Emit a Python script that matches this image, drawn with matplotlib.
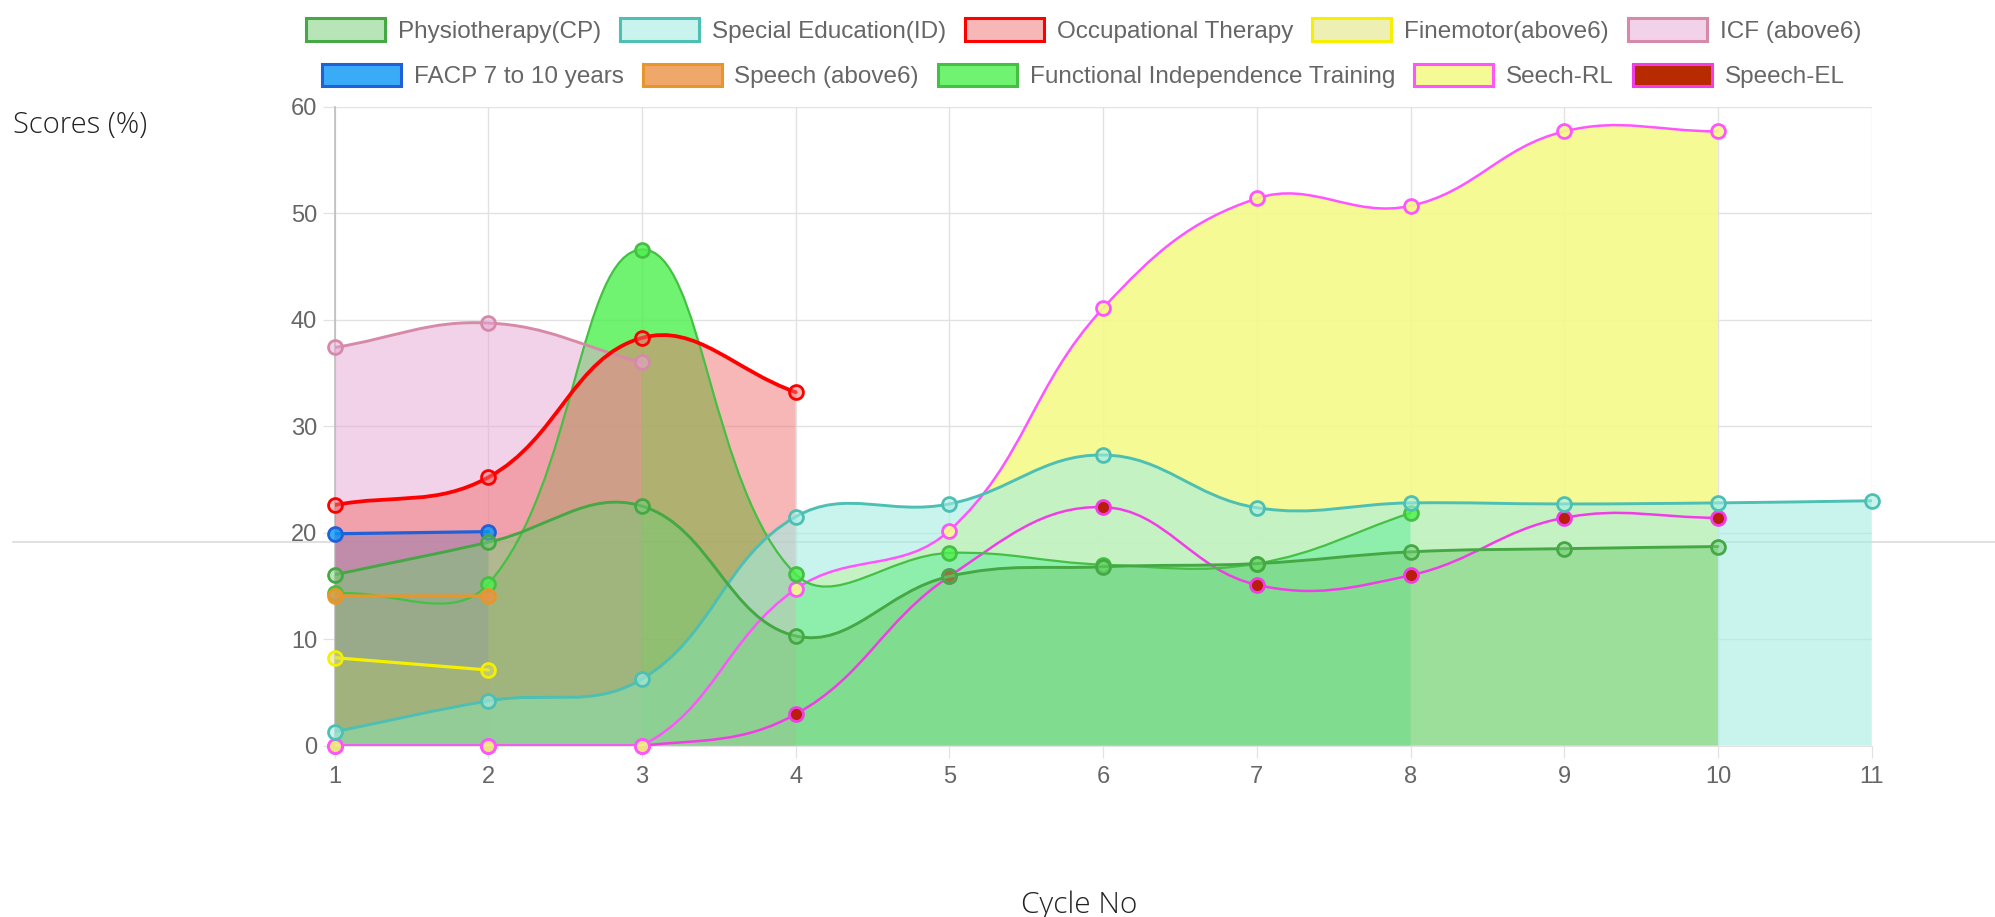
import numpy as np
import matplotlib
matplotlib.use("Agg")
import matplotlib.pyplot as plt
from matplotlib.path import Path
from matplotlib.patches import PathPatch, Rectangle
from matplotlib.lines import Line2D

plt.rcParams['font.family'] = ['Liberation Sans', 'DejaVu Sans']

# cycles (x) for each dataset, and scores
physio_x = [1, 2, 3, 4, 5, 6, 7, 8, 9, 10]
physio = [16.05, 19.1, 22.5, 10.3, 15.9, 16.8, 17.1, 18.2, 18.5, 18.7]
special_x = [1, 2, 3, 4, 5, 6, 7, 8, 9, 10, 11]
special = [1.3, 4.2, 6.25, 21.5, 22.7, 27.3, 22.35, 22.8, 22.7, 22.8, 23.0]
ot_x = [1, 2, 3, 4]
ot = [22.6, 25.2, 38.3, 33.2]
fine_x = [1, 2]
fine = [8.26, 7.1]
icf_x = [1, 2, 3]
icf = [37.4, 39.7, 36.0]
facp_x = [1, 2]
facp = [19.9, 20.1]
speech6_x = [1, 2]
speech6 = [14.05, 14.05]
fit_x = [1, 2, 3, 4, 5, 6, 7, 8]
fit = [14.3, 15.2, 46.6, 16.1, 18.1, 17.0, 17.1, 21.85]
rl_x = [1, 2, 3, 4, 5, 6, 7, 8, 9, 10]
rl = [0, 0, 0, 14.7, 20.2, 41.1, 51.4, 50.7, 57.7, 57.7]
el_x = [1, 2, 3, 4, 5, 6, 7, 8, 9, 10]
el = [0, 0, 0, 2.95, 15.9, 22.4, 15.1, 16.0, 21.4, 21.4]

labels = ['Physiotherapy(CP)', 'Special Education(ID)', 'Occupational Therapy',
          'Finemotor(above6)', 'ICF (above6)', 'FACP 7 to 10 years',
          'Speech (above6)', 'Functional Independence Training', 'Seech-RL', 'Speech-EL']


def rgba(r, g, b, a):
    return (r / 255, g / 255, b / 255, a)


# (x, y, fill colour, line colour, line width, filled)
datasets = [
    (physio_x, physio, rgba(115, 205, 115, 0.5), '#45a845', 2.1, True),
    (special_x, special, rgba(165, 238, 228, 0.6), '#4dbfb3', 2.1, True),
    (ot_x, ot, rgba(241, 113, 113, 0.5), '#ff0000', 2.7, True),
    (fine_x, fine, rgba(221, 225, 105, 0.5), '#f5f000', 2.3, True),
    (icf_x, icf, rgba(231, 167, 213, 0.5), '#d68aa8', 2.1, True),
    (facp_x, facp, rgba(8, 150, 245, 0.8), '#2060d8', 2.3, True),
    (speech6_x, speech6, rgba(236, 147, 69, 0.8), '#e8962a', 2.3, True),
    (fit_x, fit, rgba(76, 240, 76, 0.8), '#45c045', 1.6, True),
    (rl_x, rl, rgba(244, 250, 137, 0.9), '#ff55ff', 1.8, True),
    (el_x, el, rgba(184, 30, 10, 1.0), '#f23ce8', 1.8, False),
]

W, H = 1995, 917
fig = plt.figure(figsize=(W / 100, H / 100), dpi=100)
left, right, top, bottom = 334.6, 1871.6, 106.9, 745.6
ax = fig.add_axes([left / W, 1 - bottom / H, (right - left) / W, (bottom - top) / H])
ax.set_facecolor('none')
ax.set_xlim(1, 11)
ax.set_ylim(0, 60)


def spline(xs, ys, tension=0.4):
    # Chart.js style bezier control points, computed in pixel space
    pts = ax.transData.transform(np.column_stack([xs, ys]).astype(float))
    n = len(pts)
    cprev, cnext = [], []
    for i in range(n):
        cur = pts[i]
        prv = pts[i - 1] if i > 0 else cur
        nxt = pts[i + 1] if i < n - 1 else cur
        d01 = np.hypot(*(cur - prv))
        d12 = np.hypot(*(nxt - cur))
        tot = d01 + d12
        s01 = d01 / tot if tot else 0
        s12 = d12 / tot if tot else 0
        cprev.append(cur - tension * s01 * (nxt - prv))
        cnext.append(cur + tension * s12 * (nxt - prv))
    inv = ax.transData.inverted()
    data = inv.transform(pts)
    cprev = inv.transform(np.array(cprev))
    cnext = inv.transform(np.array(cnext))
    for arr in (cprev, cnext):
        arr[:, 0] = np.clip(arr[:, 0], 1, 11)
        arr[:, 1] = np.clip(arr[:, 1], 0, 60)
    verts = [data[0]]
    codes = [Path.MOVETO]
    for i in range(n - 1):
        verts += [cnext[i], cprev[i + 1], data[i + 1]]
        codes += [Path.CURVE4] * 3
    return verts, codes


# all fills first (last dataset lowest), then lines and points on top
N = len(datasets)
for i, (xs, ys, fc, lc, lw, filled) in enumerate(datasets):
    verts, codes = spline(xs, ys)
    if filled:
        fverts = [(xs[0], 0)] + [tuple(v) for v in verts] + [(xs[-1], 0), (xs[0], 0)]
        fcodes = [Path.MOVETO, Path.LINETO] + codes[1:] + [Path.LINETO, Path.CLOSEPOLY]
        ax.add_patch(PathPatch(Path(fverts, fcodes), facecolor=fc, edgecolor='none',
                               zorder=2 + (N - i) * 0.1))
    z = 5 + (N - i) * 2
    ax.add_patch(PathPatch(Path(verts, codes), facecolor='none', edgecolor=lc, lw=lw,
                           zorder=z, capstyle='round', joinstyle='round'))
    ax.plot(xs, ys, 'o', ms=10, mfc=fc, mec=lc, mew=2.0, zorder=z + 1, clip_on=False)

ax.set_xticks(range(1, 12))
ax.set_yticks(range(0, 61, 10))
ax.grid(True, color='#e2e2e2', lw=1.0)
ax.set_axisbelow(True)
ax.tick_params(axis='x', length=8.6, width=0.9, color='#e2e2e2', labelcolor='#666666',
               labelsize=17, pad=6)
ax.tick_params(axis='y', length=8.6, width=0.9, color='#e2e2e2', labelcolor='#666666',
               labelsize=17, pad=4)
for s in ['top', 'right']:
    ax.spines[s].set_visible(False)
ax.spines['left'].set_color('#bdbdbd')
ax.spines['left'].set_linewidth(1.2)
ax.spines['bottom'].set_color('#e2e2e2')

# stray horizontal line across the screenshot
fig.add_artist(Line2D([13 / W, 1], [1 - 542 / H] * 2, transform=fig.transFigure,
                      color='#dadada', lw=1.2, zorder=-1))

fig.text(13 / W, 1 - 125 / H, 'Scores (%)', fontsize=21, family=['Open Sans', 'DejaVu Sans'],
         weight='light', color='#222222', ha='left', va='center')
fig.text(1079 / W, 1 - 905 / H, 'Cycle No', fontsize=21.5, family=['Open Sans', 'DejaVu Sans'],
         weight='light', color='#222222', ha='center', va='center')

handles = []
for (xs, ys, fc, lc, lw, filled) in datasets:
    face = fc if filled else rgba(184, 42, 0, 1.0)
    handles.append(Rectangle((0, 0), 1, 1, facecolor=face, edgecolor=lc, lw=2.2))

rows = [(0, 5, 0.5431, 1 - 30.5 / H), (5, 10, 0.543, 1 - 76 / H)]
for a, b, cx, cy in rows:
    leg = fig.legend(handles[a:b], labels[a:b], ncol=5, loc='center', bbox_to_anchor=(cx, cy),
                     frameon=False, fontsize=17.5, handlelength=3.25, handleheight=1.05,
                     handletextpad=0.53, columnspacing=0.78, borderpad=0, borderaxespad=0)
    for t in leg.get_texts():
        t.set_color('#666666')

fig.savefig('out.png', dpi=100)
